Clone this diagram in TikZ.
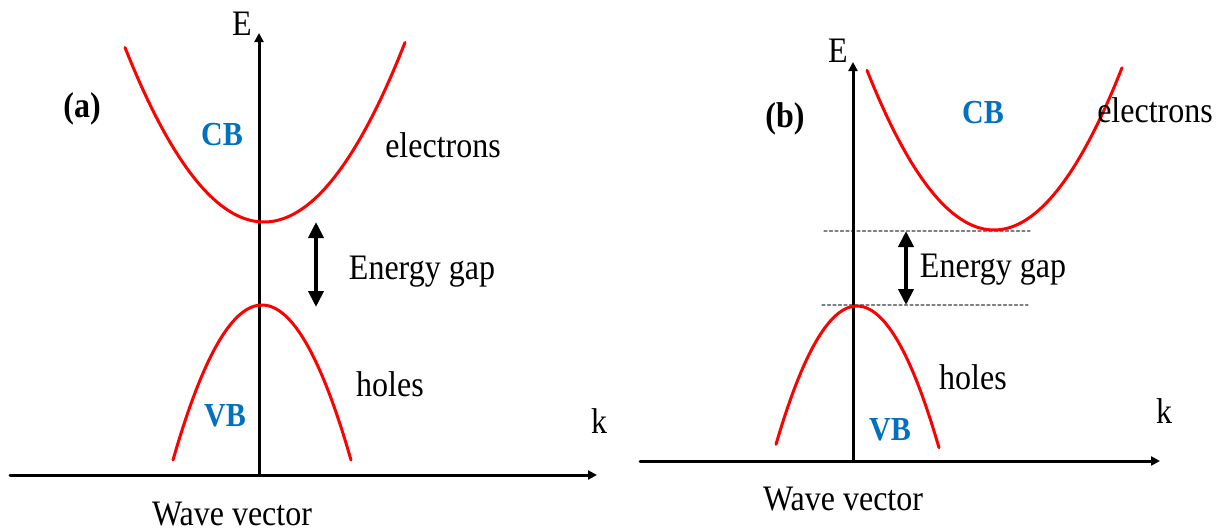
\documentclass[tikz,border=0pt]{standalone}
\usepackage{fontspec}
\setmainfont{Liberation Serif}
\usetikzlibrary{arrows.meta}
\definecolor{bandblue}{RGB}{0,112,192}
\newcommand\tall[1]{\scalebox{1}[1.12]{#1}}
\tikzset{
  axis/.style={line width=3pt, -{Triangle[length=9pt,width=9pt]}},
  band/.style={red, line width=3pt},
  gaparrow/.style={line width=3.8pt, {Triangle[length=16pt,width=15pt]}-{Triangle[length=16pt,width=15pt]}},
  levelline/.style={gray, line width=1.2pt, dash pattern=on 3pt off 2.5pt},
  txt/.style={font=\fontsize{32}{38}\selectfont, inner sep=0pt, anchor=base},
  bandtxt/.style={font=\fontsize{30}{36}\selectfont\bfseries, text=bandblue, inner sep=0pt, anchor=base},
  paneltxt/.style={font=\fontsize{32}{38}\selectfont\bfseries, inner sep=0pt, anchor=base}
}
\begin{document}
\begin{tikzpicture}[x=1pt, y=-1pt, line join=round, line cap=round]
\useasboundingbox (0,0) rectangle (1217,531);
% (a) direct gap
\path
  (259,475) coordinate (Oa)
  (259,33) coordinate (Ta)
  (10,475) coordinate (La)
  (597,475) coordinate (Ra)
  (316,222) coordinate (ga1)
  (316,307) coordinate (ga2);
\draw[axis] (Oa)--(Ta);
\draw[axis] (La)--(Ra);
\draw[band] plot[domain=-139:141, smooth, samples=40] ({264+\x},{222-(0.09503*\x)^2});
\draw[band] plot[domain=-89:89, smooth, samples=40] ({262+\x},{305+(0.1399*\x)^2});
\draw[gaparrow] (ga1)--(ga2);
\node[txt] (Ea) at (242,35) {\tall{E}};
\node[txt] (ka) at (599,433) {\tall{k}};
\node[paneltxt] (pa) at (82,117) {\tall{(a)}};
\node[bandtxt] (CBa) at (222,145) {\tall{CB}};
\node[bandtxt] (VBa) at (225,426) {\tall{VB}};
\node[txt] (ela) at (443,157) {\tall{electrons}};
\node[txt] (gapa) at (422,279) {\tall{Energy gap}};
\node[txt] (hola) at (390,396) {\tall{holes}};
\node[txt] (wva) at (232,525) {\tall{Wave vector}};
% (b) indirect gap
\path
  (853,461) coordinate (Ob)
  (853,62) coordinate (Tb)
  (640,461) coordinate (Lb)
  (1160,461) coordinate (Rb)
  (906,231) coordinate (gb1)
  (906,305) coordinate (gb2)
  (824,231) coordinate (c1)
  (1030,231) coordinate (c2)
  (822,305) coordinate (v1)
  (1028,305) coordinate (v2);
\draw[levelline] (c1)--(c2);
\draw[levelline] (v1)--(v2);
\draw[axis] (Ob)--(Tb);
\draw[axis] (Lb)--(Rb);
\draw[band] plot[domain=-127:128, smooth, samples=40] ({994+\x},{230-(0.0995*\x)^2});
\draw[band] plot[domain=-81:82, smooth, samples=40] ({857+\x},{306+(0.1452*\x)^2});
\draw[gaparrow] (gb1)--(gb2);
\node[txt] (Eb) at (838,62) {\tall{E}};
\node[txt] (kb) at (1164,423) {\tall{k}};
\node[paneltxt] (pb) at (785,127) {\tall{(b)}};
\node[bandtxt] (CBb) at (983,123) {\tall{CB}};
\node[bandtxt] (VBb) at (890,440) {\tall{VB}};
\node[txt] (elb) at (1155,122) {\tall{electrons}};
\node[txt] (gapb) at (993,277) {\tall{Energy gap}};
\node[txt] (holb) at (973,389) {\tall{holes}};
\node[txt] (wvb) at (843,510) {\tall{Wave vector}};
\end{tikzpicture}
\end{document}
